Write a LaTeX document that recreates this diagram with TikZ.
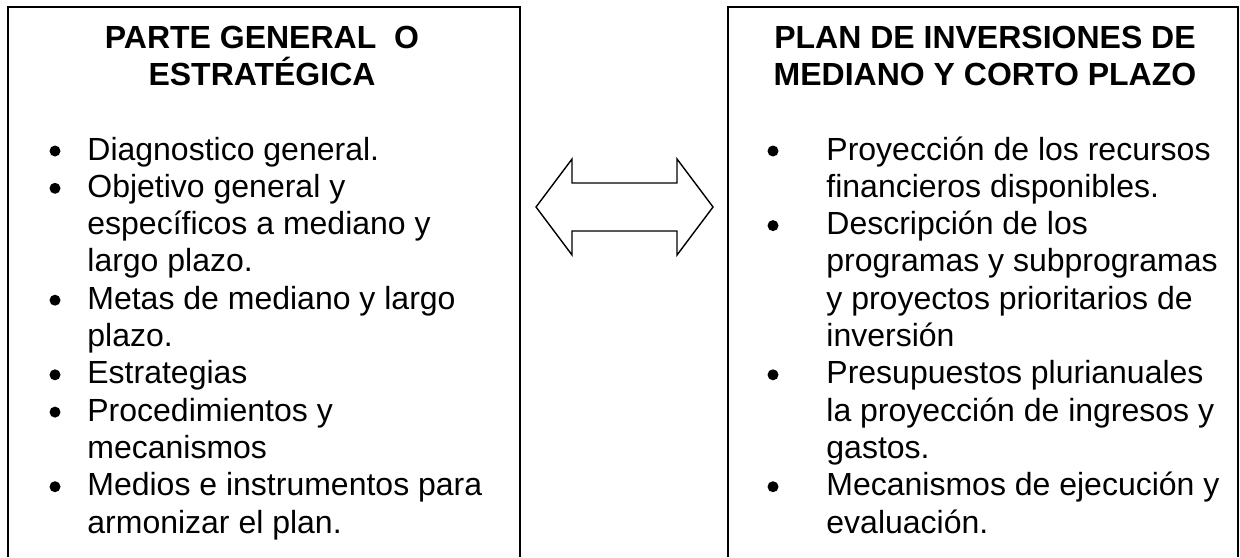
\documentclass[tikz,border=0pt]{standalone}
\usepackage{fontspec}
\setmainfont{Liberation Sans}
\newcommand{\itmbox}[1]{\parbox[t]{300pt}{\raggedright #1}}
\newcommand{\ttlbox}[1]{\parbox[t]{300pt}{\centering #1}}
\begin{document}
\begin{tikzpicture}[x=0.5pt,y=-0.5pt,
  frame/.style={draw=black, line width=1pt},
  itemtext/.style={anchor=base west, inner sep=0pt, font=\fontsize{16pt}{18.65pt}\selectfont},
  titletext/.style={anchor=base, inner sep=0pt, font=\bfseries\fontsize{16pt}{18.5pt}\selectfont},
  dot/.style={circle, fill=black, inner sep=0pt, minimum size=5.5pt},
  twoarrow/.style={draw=black, line width=0.7pt, fill=white}]
\useasboundingbox (0,0) rectangle (1240,557);
% boxes (open at the bottom)
\draw[frame] (8,557) -- (8,7) -- (520,7) -- (520,557);
\draw[frame] (728,557) -- (728,7) -- (1238,7) -- (1238,557);
% titles
\node[titletext] (tl) at (262,48) {\ttlbox{PARTE GENERAL\ \ O\\ESTRATÉGICA}};
\node[titletext] (tr) at (985,48) {\ttlbox{PLAN DE INVERSIONES DE\\MEDIANO Y CORTO PLAZO}};
% left items
\node[itemtext] (l1) at (87,160)   {\itmbox{Diagnostico general.}};
\node[itemtext] (l2) at (87,197.3) {\itmbox{Objetivo general y\\específicos a mediano y\\largo plazo.}};
\node[itemtext] (l3) at (87,309.2) {\itmbox{Metas de mediano y largo\\plazo.}};
\node[itemtext] (l4) at (87,383.8) {\itmbox{Estrategias}};
\node[itemtext] (l5) at (87,421.1) {\itmbox{Procedimientos y\\mecanismos}};
\node[itemtext] (l6) at (87,495.7) {\itmbox{Medios e instrumentos para\\armonizar el plan.}};
\foreach \y/\n in {160/1,197.3/2,309.2/3,383.8/4,421.1/5,495.7/6}
  \node[dot] (lb\n) at (55,\y-9) {};
% right items
\node[itemtext] (r1) at (826,160)   {\itmbox{Proyección de los recursos\\financieros disponibles.}};
\node[itemtext] (r2) at (826,234.6) {\itmbox{Descripción de los\\programas y subprogramas\\y proyectos prioritarios de\\inversión}};
\node[itemtext] (r3) at (826,383.8) {\itmbox{Presupuestos plurianuales\\la proyección de ingresos y\\gastos.}};
\node[itemtext] (r4) at (826,495.7) {\itmbox{Mecanismos de ejecución y\\evaluación.}};
\foreach \y/\n in {160/1,234.6/2,383.8/3,495.7/4}
  \node[dot] (rb\n) at (773,\y-9) {};
% double arrow
\draw[twoarrow, line join=miter] (536,207) -- (572,159) -- (572,183) -- (677,183) -- (677,159)
  -- (713,207) -- (677,255) -- (677,231) -- (572,231) -- (572,255) -- cycle;
\end{tikzpicture}
\end{document}
